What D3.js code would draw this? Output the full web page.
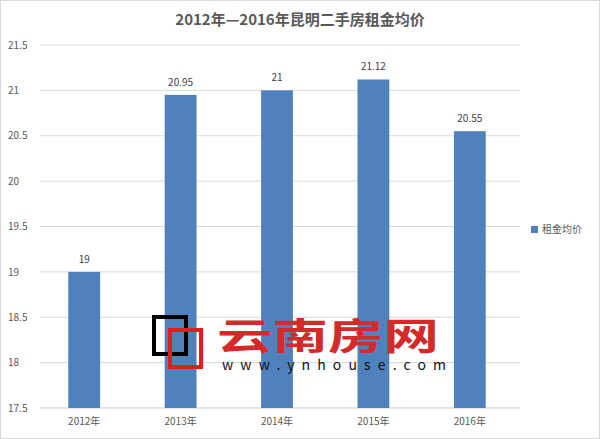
<!DOCTYPE html>
<html><head><meta charset="utf-8">
<script src="https://cdn.jsdelivr.net/npm/d3@7"></script>
<style>body{margin:0;background:#fff}text{font-family:"Noto Sans CJK SC","DejaVu Sans",sans-serif}</style>
</head><body>
<script>
const years = ["2012年", "2013年", "2014年", "2015年", "2016年"];
const rents = [19, 20.95, 21, 21.12, 20.55];
const yTicks = [17.5, 18, 18.5, 19, 19.5, 20, 20.5, 21, 21.5];
const seriesName = "租金均价";

const W = 600, H = 439;
const svg = d3.select("body").append("svg").attr("width", W).attr("height", H);
svg.append("rect").attr("x", 0.5).attr("y", 0.5).attr("width", W - 1).attr("height", H - 1)
  .attr("fill", "#fff").attr("stroke", "#d9d9d9");

const x = d3.scaleBand().domain(years).range([36, 518]).paddingInner(0.67).paddingOuter(0.335);
const y = d3.scaleLinear().domain([17.5, 21.5]).range([408, 45]);

// gridlines
svg.append("g").selectAll("line").data(yTicks).join("line")
  .attr("x1", 40).attr("x2", 520).attr("y1", d => y(d)).attr("y2", d => y(d))
  .attr("stroke", "#d9d9d9");

const yAxis = svg.append("g").attr("transform", "translate(40,0)")
  .call(d3.axisLeft(y).tickValues(yTicks).tickSize(0).tickPadding(8).tickFormat(d3.format("")));
yAxis.select(".domain").remove();
yAxis.selectAll("text").attr("fill", "#595959").style("font-size", "10px").attr("text-anchor", "start").attr("x", -32);

const xAxis = svg.append("g").attr("transform", "translate(0,408)")
  .call(d3.axisBottom(x).tickSize(0).tickPadding(10));
xAxis.select(".domain").attr("stroke", "#d9d9d9").attr("d", "M40,0H520");
xAxis.selectAll("text").attr("fill", "#595959").style("font-size", "10px");

svg.append("g").selectAll("rect").data(rents).join("rect")
  .attr("x", (d, i) => x(years[i])).attr("width", x.bandwidth())
  .attr("y", d => y(d)).attr("height", d => 408 - y(d)).attr("fill", "#4f81bd");

svg.append("g").selectAll("text").data(rents).join("text")
  .attr("x", (d, i) => x(years[i]) + x.bandwidth() / 2).attr("y", d => y(d) - 9)
  .attr("text-anchor", "middle").attr("fill", "#404040").style("font-size", "10px").text(d => d);

svg.append("text").attr("x", 300).attr("y", 25).attr("text-anchor", "middle")
  .attr("fill", "#595959").style("font-size", "15px").style("font-weight", "bold")
  .text("2012年—2016年昆明二手房租金均价");

// legend
svg.append("rect").attr("x", 531).attr("y", 226).attr("width", 7).attr("height", 7).attr("fill", "#4f81bd");
svg.append("text").attr("x", 542).attr("y", 233).attr("fill", "#595959").style("font-size", "10px").text(seriesName);

// watermark
svg.append("rect").attr("x", 154).attr("y", 317).attr("width", 32).attr("height", 37)
  .attr("fill", "none").attr("stroke", "#000").attr("stroke-width", 4);
svg.append("rect").attr("x", 170).attr("y", 330).attr("width", 31).attr("height", 37)
  .attr("fill", "none").attr("stroke", "#e02020").attr("stroke-width", 4);
svg.append("text").attr("transform", "translate(217,350) scale(1.5,1)").attr("fill", "#d42a2a")
  .style("font-size", "37px").style("font-weight", "bold").text("云南房网");
svg.append("text").attr("x", 222).attr("y", 370).attr("fill", "#111")
  .style("font-size", "14px").attr("textLength", 224).text("www.ynhouse.com");
</script>
</body></html>
